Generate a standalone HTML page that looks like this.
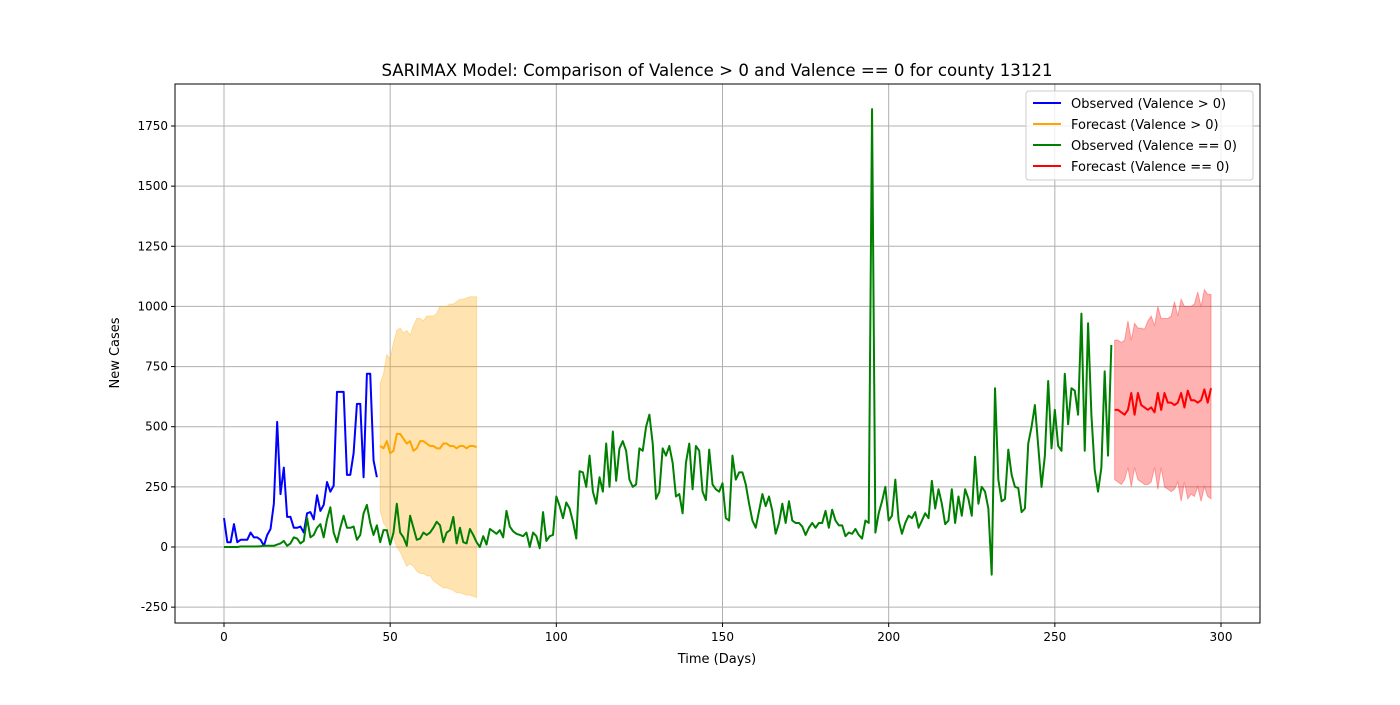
<!DOCTYPE html>
<html><head><meta charset="utf-8"><style>
body{margin:0;background:#fff;font-family:"Liberation Sans","DejaVu Sans",sans-serif;}
svg text{font-family:"DejaVu Sans","Liberation Sans",sans-serif;fill:#000;}
</style></head><body>
<svg id="chart" width="1400" height="700" viewBox="0 0 1400 700" xmlns="http://www.w3.org/2000/svg">
<rect width="1400" height="700" fill="#fff"/>
<g id="grid"></g><g id="bands"></g><g id="lines"></g><g id="axes"></g>
<text x="717" y="76" text-anchor="middle" font-size="16.6">SARIMAX Model: Comparison of Valence &gt; 0 and Valence == 0 for county 13121</text>
<text x="717" y="663" text-anchor="middle" font-size="13">Time (Days)</text>
<text transform="translate(119,353) rotate(-90)" text-anchor="middle" font-size="13">New Cases</text>
<g>
<rect x="1026" y="91" width="227" height="89" rx="3" fill="#fff" fill-opacity="0.8" stroke="#ccc"/>
<line x1="1033" y1="103" x2="1061" y2="103" stroke="blue" stroke-width="2"/><text x="1071" y="108" font-size="13">Observed (Valence &gt; 0)</text>
<line x1="1033" y1="124" x2="1061" y2="124" stroke="orange" stroke-width="2"/><text x="1071" y="129" font-size="13">Forecast (Valence &gt; 0)</text>
<line x1="1033" y1="145" x2="1061" y2="145" stroke="green" stroke-width="2"/><text x="1071" y="150" font-size="13">Observed (Valence == 0)</text>
<line x1="1033" y1="166" x2="1061" y2="166" stroke="red" stroke-width="2"/><text x="1071" y="171" font-size="13">Forecast (Valence == 0)</text>
</g>
</svg>
<script>
const xTicks=[0,50,100,150,200,250,300];
const yTicks=[-250,0,250,500,750,1000,1250,1500,1750];
const obsPos=[120,20,20,95,20,30,30,30,60,40,40,30,5,50,75,180,520,220,330,125,125,80,80,85,60,140,145,115,215,150,175,270,230,255,645,645,645,300,300,390,595,595,290,720,720,360,290];
const fcPos=[420,410,440,390,400,470,470,450,430,440,400,410,440,440,430,420,420,410,410,430,430,420,420,410,420,420,410,420,420,415];
const fcPosUp=[680,720,800,780,850,900,910,890,900,880,920,950,950,940,960,960,960,970,1000,1000,1000,1010,1010,1020,1030,1030,1035,1040,1040,1040];
const fcPosLo=[150,100,80,60,40,0,-20,-50,-80,-70,-80,-100,-110,-110,-120,-120,-140,-150,-160,-170,-170,-175,-180,-190,-190,-195,-200,-200,-205,-210];
const obsZero=[0,0,0,0,0,2,2,2,2,2,2,3,5,5,5,5,10,15,25,5,15,40,35,15,25,120,40,50,80,95,40,115,165,60,20,80,130,80,80,85,30,50,140,175,100,50,90,20,70,70,10,60,180,60,40,5,130,80,30,35,60,50,60,80,105,90,20,60,70,125,15,80,20,15,75,50,20,0,45,10,75,65,55,70,40,150,85,65,55,50,45,60,0,60,45,-5,145,25,45,50,210,170,120,185,160,105,35,315,310,250,380,230,180,290,230,430,250,480,275,410,440,400,280,250,260,410,400,500,550,430,200,230,410,380,420,350,210,220,140,350,430,240,420,400,230,195,405,260,240,230,265,120,110,380,280,310,310,260,180,110,80,150,220,170,210,150,55,100,180,100,190,110,100,100,85,50,80,100,80,100,100,150,80,155,110,90,90,45,60,55,75,50,35,110,100,1820,60,140,190,250,110,130,280,110,55,100,130,120,145,80,110,140,120,275,160,240,180,95,110,240,100,210,130,240,200,130,375,180,250,230,160,-115,660,280,190,200,405,300,250,245,145,160,430,500,590,420,250,380,690,410,570,420,400,720,510,660,650,550,970,400,930,550,320,230,330,730,380,840];
const fcZero=[570,570,560,550,570,640,550,640,590,580,570,580,560,640,570,640,600,600,590,600,640,580,650,610,610,600,610,655,600,660];
const fcZeroUp=[860,860,850,860,940,860,930,910,910,905,940,960,920,1000,950,950,950,960,1020,960,1030,1000,1000,1000,1010,1060,1000,1070,1050,1050];
const fcZeroLo=[280,270,260,280,330,250,330,280,270,260,260,270,330,240,330,250,240,230,240,270,190,270,200,220,210,250,190,250,210,200];

const L=175,R=1260,T=84,B=623;
const X=d=>224+d*(1221-224)/300;
const Y=v=>547-v*(547-126)/1750;
const NS='http://www.w3.org/2000/svg';
function mk(tag,attrs,parent){const e=document.createElementNS(NS,tag);for(const k in attrs)e.setAttribute(k,attrs[k]);parent.appendChild(e);return e;}
const grid=document.getElementById('grid'),axes=document.getElementById('axes'),bands=document.getElementById('bands'),lines=document.getElementById('lines');
xTicks.forEach(t=>{const x=X(t);
 const g=mk('line',{x1:x,x2:x,y1:T,y2:B,stroke:'#b0b0b0','stroke-width':1},grid);
 
 
 mk('line',{x1:x,x2:x,y1:B,y2:B+4,stroke:'#000'},axes);
 const tx=mk('text',{x:x,y:B+18,'text-anchor':'middle','font-size':12},axes);tx.textContent=t;
 
 
});
yTicks.forEach(t=>{const y=Y(t);
 const g=mk('line',{x1:L,x2:R,y1:y,y2:y,stroke:'#b0b0b0','stroke-width':1},grid);
 
 
 mk('line',{x1:L-4,x2:L,y1:y,y2:y,stroke:'#000'},axes);
 const tx=mk('text',{x:L-7,y:y+4,'text-anchor':'end','font-size':12},axes);tx.textContent=t;
 
 
});
const frame=mk('rect',{x:L,y:T,width:R-L,height:B-T,fill:'none',stroke:'#000','stroke-width':1},axes);


function band(up,lo,start,color,name){
 let p=up.map((v,i)=>X(start+i)+','+Y(v));
 for(let i=lo.length-1;i>=0;i--)p.push(X(start+i)+','+Y(lo[i]));
 const e=mk('polygon',{points:p.join(' '),fill:color,'fill-opacity':0.3,stroke:color,'stroke-opacity':0.3},bands);
 
 
}
function line(vals,start,color,name){
 const e=mk('polyline',{points:vals.map((v,i)=>X(start+i)+','+Y(v)).join(' '),fill:'none',stroke:color,'stroke-width':2,'stroke-linejoin':'round'},lines);
 
 
}
band(fcPosUp,fcPosLo,obsPos.length,'orange','forecast-pos-ci');
band(fcZeroUp,fcZeroLo,obsZero.length,'red','forecast-zero-ci');
line(obsPos,0,'blue','observed-pos-line');
line(fcPos,obsPos.length,'orange','forecast-pos-line');
line(obsZero,0,'green','observed-zero-line');
line(fcZero,obsZero.length,'red','forecast-zero-line');
</script>
</body></html>
